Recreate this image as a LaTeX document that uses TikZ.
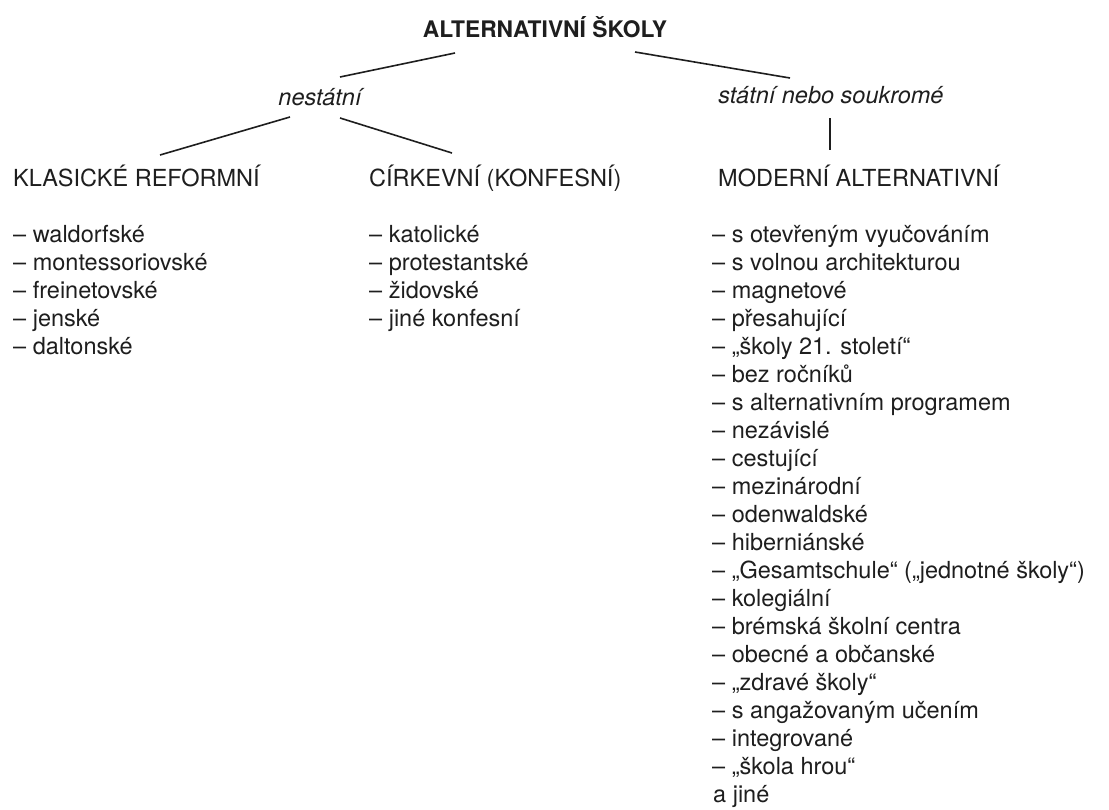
\documentclass[tikz,border=0pt]{standalone}
\usepackage{fontspec}
\setmainfont{TeX Gyre Heros}
\definecolor{ink}{HTML}{1E1E1E}
\begin{document}
\begin{tikzpicture}[x=1pt,y=-1pt,
  txt/.style={inner sep=0pt, anchor=base west, text=ink, font=\fontsize{23.5}{28}\selectfont},
  head/.style={txt},
  cat/.style={inner sep=0pt, anchor=base, text=ink, font=\fontsize{23.5}{28}\selectfont\itshape},
  ttl/.style={inner sep=0pt, anchor=base, text=ink, font=\fontsize{22.8}{28}\selectfont\bfseries},
  conn/.style={draw=ink, line width=1.6pt}]
\useasboundingbox[fill=white] (0,0) rectangle (1109,809);

% title and categories
\node[ttl] (title) at (545,37) {ALTERNATIVNÍ ŠKOLY};
\node[cat] (nest) at (320,105) {nestátní};
\node[cat] (stat) at (831,103) {státní nebo soukromé};

% column heads
\node[head] (klas) at (13,186) {KLASICKÉ REFORMNÍ};
\node[head] (cirk) at (369,186) {CÍRKEVNÍ (KONFESNÍ)};
\node[head] (mod)  at (718,186) {MODERNÍ ALTERNATIVNÍ};

% connector end points
\coordinate (t1) at (455,53);
\coordinate (n1) at (340,77);
\coordinate (t2) at (635,52);
\coordinate (s1) at (790,78);
\coordinate (n2) at (290,117);
\coordinate (k1) at (160,155);
\coordinate (n3) at (340,118);
\coordinate (c1) at (452,153);
\coordinate (s2) at (830,118);
\coordinate (m1) at (830,150);

\draw[conn] (t1) -- (n1);
\draw[conn] (t2) -- (s1);
\draw[conn] (n2) -- (k1);
\draw[conn] (n3) -- (c1);
\draw[conn] (s2) -- (m1);

% lists
\foreach \t [count=\i from 0] in {{waldorfské},{montessoriovské},{freinetovské},{jenské},{daltonské}}
  \node[txt] (l\i) at (13,{242+28*\i}) {– \t};

\foreach \t [count=\i from 0] in {{katolické},{protestantské},{židovské},{jiné konfesní}}
  \node[txt] (c\i) at (369,{242+28*\i}) {– \t};

\foreach \t [count=\i from 0] in {{s otevřeným vyučováním},{s volnou architekturou},{magnetové},{přesahující},{„školy 21. století“},{bez ročníků},{s alternativním programem},{nezávislé},{cestující},{mezinárodní},{odenwaldské},{hiberniánské},{„Gesamtschule“ („jednotné školy“)},{kolegiální},{brémská školní centra},{obecné a občanské},{„zdravé školy“},{s angažovaným učením},{integrované},{„škola hrou“}}
  \node[txt] (r\i) at (712,{242+28*\i}) {– \t};
\node[txt] (rend) at (713,802) {a jiné};
\end{tikzpicture}
\end{document}
